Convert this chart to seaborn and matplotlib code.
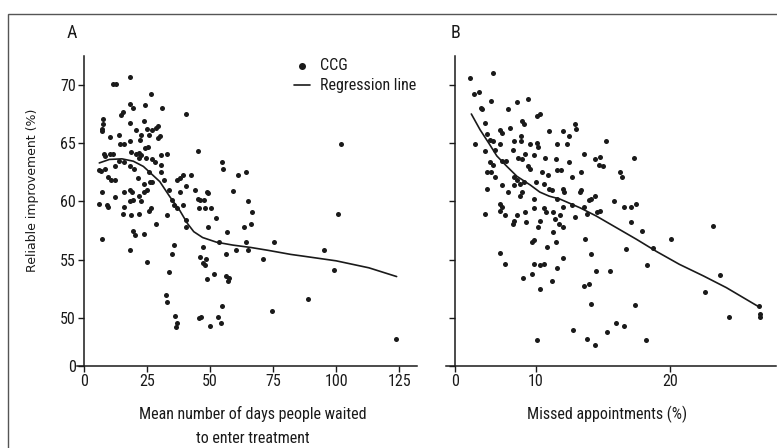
import matplotlib
matplotlib.use("Agg")
import matplotlib.pyplot as plt
from matplotlib import font_manager
from matplotlib.patches import Rectangle
import seaborn as sns
import numpy as np

# --- panel A: waiting time vs reliable improvement ---
wait_days = [18.1, 11.4, 12.8, 18.1, 19.3, 24.1, 26.6, 30.8, 40.6, 15.4, 14.8, 7.5, 7.3, 6.9, 7.1,
             10.3, 13.8, 18.1, 23.7, 29.2, 28.4, 20.7, 24.9, 25.6, 22.7, 18.1, 22.3, 14.4, 15.8, 27.0,
             24.1, 25.2, 32.7, 30.0, 29.2, 7.9, 8.3, 10.3, 11.4, 18.7, 20.7, 21.7, 22.7, 26.8, 28.0,
             30.6, 5.9, 6.7, 8.3, 12.2, 13.8, 15.8, 18.1, 19.7, 21.7, 24.7, 25.6, 30.6, 30.6, 31.6,
             10.8, 12.2, 9.5, 21.3, 23.7, 26.2, 12.4, 6.9, 15.8, 18.1, 18.9, 21.7, 23.7, 24.9, 26.8,
             5.9, 8.9, 9.5, 15.8, 18.1, 19.3, 22.7, 25.6, 26.4, 15.4, 18.7, 21.7, 28.6, 19.3, 20.1,
             23.7, 6.9, 18.1, 25.0, 33.5, 34.7, 35.5, 36.7, 32.9, 36.9, 37.9, 39.4, 42.4, 40.4, 37.9,
             39.4, 40.4, 40.6, 35.5, 34.7, 33.5, 32.5, 32.7, 36.1, 36.7, 36.5, 45.0, 44.0, 45.0, 45.8,
             45.4, 47.7, 47.9, 48.9, 49.3, 50.5, 49.3, 52.3, 47.3, 45.9, 47.3, 48.1, 48.5, 48.9, 51.7,
             53.6, 54.8, 55.2, 56.6, 56.4, 56.4, 57.6, 57.2, 54.6, 45.4, 46.2, 50.1, 53.3, 54.2, 59.2,
             61.1, 64.3, 63.5, 64.3, 65.1, 66.7, 66.1, 60.4, 65.1, 71.0, 75.5, 74.5, 88.8, 95.3, 99.2,
             100.6, 101.8, 123.7]
improve_a = [70.7, 70.06, 70.06, 68.4, 68.0, 68.3, 69.2, 68.0, 67.5, 67.7, 67.4, 67.1, 66.6, 66.2, 66.0,
             65.5, 65.7, 66.7, 66.9, 66.5, 66.3, 66.1, 66.25, 65.7, 65.7, 65.15, 65.3, 64.95, 64.9, 66.1,
             64.6, 64.7, 64.1, 65.6, 65.4, 64.1, 63.9, 64.1, 64.1, 64.2, 64.1, 64.15, 64.0, 63.6, 63.4,
             64.0, 62.7, 62.6, 62.8, 63.0, 63.5, 63.4, 63.0, 62.8, 63.7, 63.7, 62.55, 63.1, 62.5, 61.8,
             61.8, 61.8, 62.1, 62.0, 61.5, 61.7, 60.4, 60.8, 60.8, 61.0, 60.8, 60.5, 60.8, 61.0, 61.7,
             59.8, 59.7, 59.5, 59.5, 60.0, 60.1, 60.0, 59.2, 59.4, 58.9, 58.8, 58.9, 58.1, 57.5, 57.1,
             57.2, 56.8, 55.8, 54.8, 61.0, 60.1, 59.7, 59.4, 58.8, 61.8, 62.0, 62.3, 62.3, 61.3, 60.8,
             59.7, 58.4, 57.8, 56.3, 55.5, 53.9, 52.0, 51.4, 50.2, 49.6, 49.2, 64.3, 61.0, 60.2, 60.1,
             59.4, 60.1, 59.4, 60.8, 60.7, 59.4, 57.8, 58.6, 56.1, 55.2, 54.7, 54.5, 55.05, 53.3, 53.8,
             56.55, 63.4, 62.8, 57.35, 55.5, 53.6, 53.4, 53.2, 51.0, 50.0, 50.1, 49.3, 50.1, 49.6, 60.9,
             62.3, 62.5, 57.8, 56.5, 60.0, 59.1, 58.1, 55.8, 55.8, 55.05, 56.5, 50.6, 51.6, 55.8, 54.1,
             58.9, 64.9, 48.2]

# regression (smoothed) line, panel A
reg_a_x = [6, 10, 15, 19.5, 23.5, 26, 30, 34, 38, 41, 43.5, 47, 52.5, 59, 66, 73, 82, 87, 100, 113, 124]
reg_a_y = [63.3, 63.6, 63.65, 63.45, 63.0, 62.5, 61.7, 60.4, 59.2, 58.1, 57.4, 56.9, 56.5, 56.25,
           56.05, 55.8, 55.45, 55.3, 54.9, 54.3, 53.55]

# --- panel B: missed appointments vs reliable improvement ---
missed_pct = [5.1, 5.4, 5.8, 6.8, 5.9, 6.0, 6.7, 7.9, 8.6, 9.4, 6.2, 7.3, 7.5, 8.1, 9.0, 9.1, 10.1, 10.3,
              11.0, 12.0, 12.9, 13.0, 12.5, 15.2, 5.5, 6.4, 6.6, 6.8, 7.3, 8.4, 8.9, 8.9, 9.6, 10.1,
              10.2, 11.6, 12.3, 6.2, 6.96, 8.3, 9.2, 9.9, 13.6, 14.4, 14.8, 16.3, 16.4, 17.3, 6.6, 6.8,
              7.5, 7.8, 8.7, 9.0, 9.4, 9.6, 10.7, 11.5, 12.5, 14.7, 15.0, 6.4, 6.7, 6.96, 8.4, 8.6,
              10.5, 10.9, 11.6, 11.9, 12.7, 13.4, 7.5, 8.4, 8.8, 9.1, 10.0, 10.6, 11.0, 11.2, 12.0,
              12.1, 13.3, 13.4, 6.4, 7.9, 8.8, 9.0, 9.85, 11.6, 12.0, 14.0, 14.1, 14.4, 15.8, 16.6,
              17.1, 17.5, 7.3, 7.5, 6.2, 7.3, 7.7, 8.6, 9.2, 9.9, 10.6, 10.8, 11.3, 11.8, 12.7, 12.9,
              13.6, 13.8, 14.6, 14.8, 8.3, 8.4, 9.3, 10.3, 10.2, 11.4, 11.7, 12.0, 17.1, 17.95, 23.2,
              20.1, 11.3, 9.7, 9.9, 10.85, 11.5, 13.7, 7.3, 12.0, 14.1, 16.7, 18.7, 7.7, 9.9, 10.3,
              10.6, 11.6, 18.3, 14.5, 15.5, 9.07, 9.7, 11.2, 13.6, 14.0, 10.3, 22.6, 23.7, 14.1, 17.4,
              24.4, 26.6, 26.7, 26.7, 12.8, 16.0, 15.3, 16.6, 13.8, 14.4, 10.1, 18.2]
improve_b = [70.6, 69.2, 69.4, 71.0, 68.0, 67.9, 68.6, 67.9, 68.5, 68.8, 66.7, 66.1, 65.9, 66.3, 66.9,
             66.6, 67.3, 67.5, 66.0, 66.0, 66.6, 66.2, 65.6, 65.15, 64.9, 65.8, 65.3, 65.15, 64.9,
             65.15, 65.6, 65.15, 64.9, 65.0, 64.7, 64.95, 64.9, 64.3, 64.4, 64.4, 64.1, 64.0, 64.1,
             63.6, 63.85, 62.55, 62.1, 63.7, 63.4, 63.1, 63.5, 63.5, 63.7, 63.6, 63.0, 62.8, 63.7,
             63.6, 63.4, 63.1, 63.0, 62.55, 62.5, 62.1, 62.1, 61.8, 62.55, 62.3, 62.7, 62.7, 62.1,
             62.55, 61.4, 61.4, 61.5, 61.7, 61.7, 61.5, 61.1, 61.0, 61.1, 60.8, 60.8, 61.0, 61.1,
             60.8, 60.5, 60.8, 60.2, 60.2, 59.5, 60.1, 60.2, 60.5, 60.0, 59.5, 59.5, 59.8, 59.8, 59.5,
             58.9, 59.2, 58.8, 58.8, 59.1, 59.4, 59.4, 59.1, 59.1, 58.8, 59.7, 58.7, 59.5, 58.9, 59.1,
             59.2, 58.1, 58.3, 58.2, 58.3, 57.8, 58.5, 58.1, 57.8, 58.2, 57.5, 57.9, 56.8, 57.4, 56.5,
             56.7, 56.1, 56.5, 56.8, 55.6, 55.1, 55.5, 55.9, 56.0, 54.6, 54.6, 54.5, 54.6, 54.3, 54.5,
             54.0, 54.0, 53.4, 53.75, 53.2, 52.7, 52.9, 52.45, 52.2, 53.7, 51.2, 51.1, 50.1, 51.05,
             50.3, 50.1, 49.0, 49.6, 48.8, 49.3, 48.2, 47.7, 48.1, 48.1]

reg_b_x = [5.2, 5.85, 6.5, 7.1, 7.85, 8.6, 9.6, 10.3, 11.0, 11.8, 13.3, 14.5, 16.0, 17.5, 19.0, 20.7,
           22.5, 24.2, 26.7]
reg_b_y = [67.5, 66.15, 65.0, 63.9, 63.0, 62.15, 61.4, 60.8, 60.45, 60.2, 59.45, 58.75, 57.75, 56.75,
           55.7, 54.6, 53.6, 52.6, 50.9]

y_ticks = [0, 50, 55, 60, 65, 70]
a_ticks = [0, 25, 50, 75, 100, 125]
b_ticks = [0, 10, 20]


def broken_scale(lo, b):
    # values below b are squashed into [lo, b] so that 0 sits just under the data
    def fwd(v):
        v = np.asarray(v, dtype=float)
        return np.where(v >= b, v, lo + v * (b - lo) / b)

    def inv(t):
        t = np.asarray(t, dtype=float)
        return np.where(t >= b, t, (t - lo) * b / (b - lo))
    return fwd, inv


def pick_font(names):
    for n in names:
        try:
            font_manager.findfont(n, fallback_to_default=False)
            return n
        except Exception:
            pass
    return "DejaVu Sans"


sns.set_style("ticks")
narrow = pick_font(["Liberation Sans Narrow", "Roboto Condensed", "Open Sans Condensed", "DejaVu Sans"])
plt.rcParams["font.family"] = [narrow, "DejaVu Sans"]
ink = "#1a1a1a"

fig = plt.figure(figsize=(7.77, 4.48), dpi=100)
ax_a = fig.add_axes([0.0986, 0.1837, 0.4378, 0.6919])
ax_b = fig.add_axes([0.5739, 0.1837, 0.4248, 0.6919])

sns.scatterplot(x=wait_days, y=improve_a, ax=ax_a, color=ink, s=13, linewidth=0, label="CCG")
sns.lineplot(x=reg_a_x, y=reg_a_y, ax=ax_a, color=ink, lw=1.2, label="Regression line")
sns.scatterplot(x=missed_pct, y=improve_b, ax=ax_b, color=ink, s=13, linewidth=0)
sns.lineplot(x=reg_b_x, y=reg_b_y, ax=ax_b, color=ink, lw=1.2)

for ax in (ax_a, ax_b):
    ax.set_yscale("function", functions=broken_scale(45.9, 47.5))
    ax.set_ylim(0, 72.5)
    ax.set_yticks(y_ticks)
    for side in ("top", "right"):
        ax.spines[side].set_visible(False)
    for side in ("left", "bottom"):
        ax.spines[side].set_linewidth(1.1)
        ax.spines[side].set_color(ink)
    ax.set_xlabel("")
    ax.set_ylabel("")

ax_a.set_xlim(-3, 132)
ax_a.set_xticks(a_ticks)
ax_a.set_yticklabels([str(t) for t in y_ticks])
ax_a.spines["left"].set_position(("data", 0))

ax_b.set_xscale("function", functions=broken_scale(3.98, 4.6))
ax_b.set_xlim(-5, 27.9)
ax_b.set_xticks(b_ticks)
ax_b.set_xticklabels([str(t) for t in b_ticks])
ax_b.spines["left"].set_position(("data", 0))

for ax in (ax_a, ax_b):
    ax.minorticks_off()
    ax.tick_params(direction="out", length=4, width=1.0, color=ink, labelsize=11.5, labelcolor=ink, pad=2)
ax_b.tick_params(labelleft=False)

leg = ax_a.legend(loc="upper right", bbox_to_anchor=(1.04, 1.04), frameon=False, fontsize=11.5,
                  handlelength=1.0, handletextpad=0.6, labelspacing=0.35, markerscale=1.4)
for t in leg.get_texts():
    t.set_color(ink)

fig.text(67 / 777, 1 - 33 / 448, "A", fontsize=13, color=ink, va="center")
fig.text(451 / 777, 1 - 33 / 448, "B", fontsize=13, color=ink, va="center")
fig.text(253 / 777, 1 - 414 / 448, "Mean number of days people waited", ha="center", va="center",
         fontsize=11.5, color=ink)
fig.text(253 / 777, 1 - 438 / 448, "to enter treatment", ha="center", va="center", fontsize=11.5, color=ink)
fig.text(607 / 777, 1 - 414 / 448, "Missed appointments (%)", ha="center", va="center", fontsize=11.5,
         color=ink)
fig.text(33 / 777, 1 - 190 / 448, "Reliable improvement (%)", rotation=90, ha="center", va="center",
         fontsize=9, color=ink, family="DejaVu Sans")

# thin panel frame round the figure
fig.add_artist(Rectangle((8 / 777, -0.1), 1.2, 1.1 - 14 / 448, transform=fig.transFigure,
                         fill=False, lw=1.0, ec="#555555", clip_on=False))

fig.savefig("out.png", dpi=100)
